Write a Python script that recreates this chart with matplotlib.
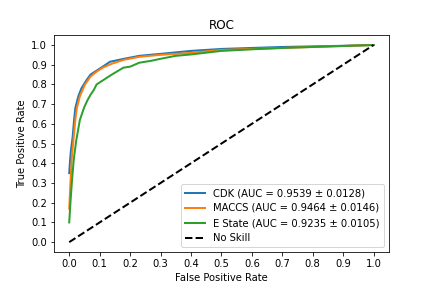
import matplotlib
matplotlib.use('Agg')
import matplotlib.pyplot as plt
import numpy as np

# ROC points
cdk_fpr = [0.0, 0.003, 0.006, 0.011, 0.016, 0.02, 0.03, 0.04, 0.056, 0.07, 0.09, 0.11, 0.134,
           0.18, 0.23, 0.3, 0.4, 0.5, 0.6, 0.7, 0.8, 0.9, 1.0]
cdk_tpr = [0.35, 0.42, 0.47, 0.53, 0.62, 0.68, 0.74, 0.78, 0.82, 0.85, 0.87, 0.89, 0.915,
           0.93, 0.945, 0.955, 0.97, 0.98, 0.985, 0.99, 0.993, 0.996, 1.0]

maccs_fpr = [0.0, 0.004, 0.008, 0.014, 0.02, 0.025, 0.035, 0.052, 0.07, 0.09, 0.11, 0.14,
             0.18, 0.23, 0.3, 0.4, 0.5, 0.6, 0.7, 0.8, 0.9, 1.0]
maccs_tpr = [0.17, 0.3, 0.42, 0.52, 0.62, 0.68, 0.74, 0.8, 0.84, 0.865, 0.885, 0.905,
             0.925, 0.94, 0.95, 0.96, 0.975, 0.98, 0.985, 0.99, 0.995, 1.0]

estate_fpr = [0.0, 0.004, 0.009, 0.015, 0.023, 0.035, 0.049, 0.06, 0.071, 0.08, 0.09, 0.11,
              0.14, 0.178, 0.2, 0.23, 0.27, 0.3, 0.35, 0.4, 0.5, 0.6, 0.7, 0.8, 0.9, 1.0]
estate_tpr = [0.1, 0.2, 0.31, 0.42, 0.515, 0.62, 0.683, 0.72, 0.75, 0.77, 0.8, 0.82,
              0.85, 0.885, 0.89, 0.91, 0.92, 0.93, 0.945, 0.952, 0.97, 0.978, 0.985, 0.99, 0.995, 1.0]

labels = ['CDK (AUC = 0.9539 ± 0.0128)',
          'MACCS (AUC = 0.9464 ± 0.0146)',
          'E State (AUC = 0.9235 ± 0.0105)']

fig, ax = plt.subplots(figsize=(6, 4), dpi=72)
fig.subplots_adjust(bottom=0.125, top=0.878)
ax.plot(cdk_fpr, cdk_tpr, lw=2, label=labels[0])
ax.plot(maccs_fpr, maccs_tpr, lw=2, label=labels[1])
ax.plot(estate_fpr, estate_tpr, lw=2, label=labels[2])
ax.plot([0, 1], [0, 1], 'k--', lw=2, label='No Skill')

ax.set_xticks(np.arange(0, 1.01, 0.1))
ax.set_yticks(np.arange(0, 1.01, 0.1))
ax.set_xlabel('False Positive Rate')
ax.set_ylabel('True Positive Rate')
ax.set_title('ROC')
ax.legend(loc='lower right')

plt.savefig('out.png', dpi=72)
